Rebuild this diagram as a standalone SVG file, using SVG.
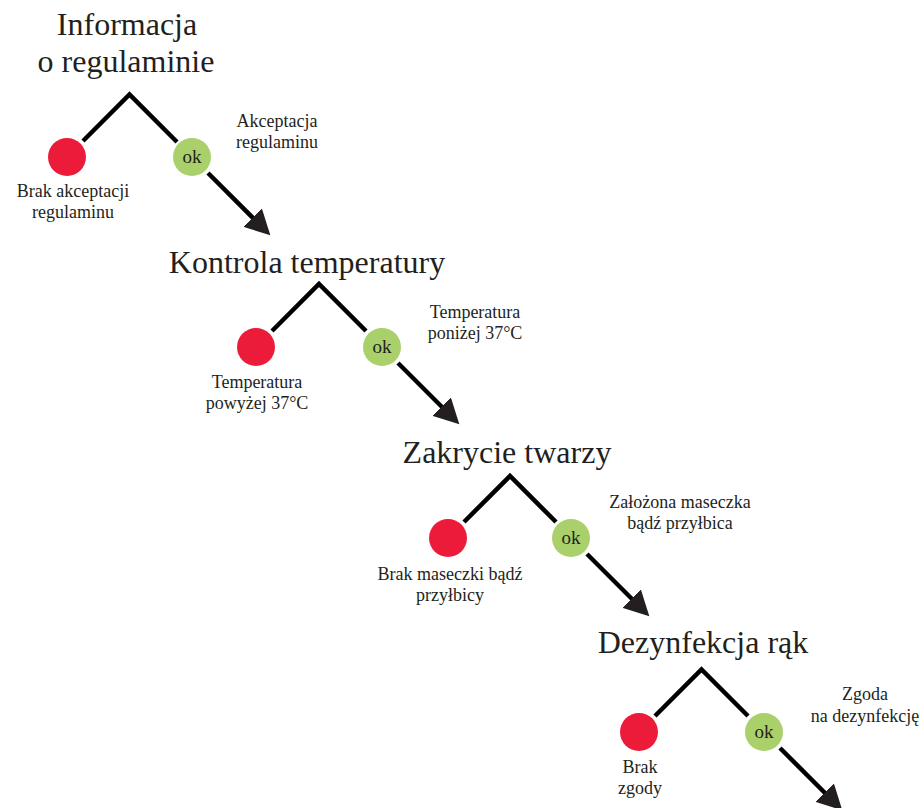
<svg xmlns="http://www.w3.org/2000/svg" width="922" height="808" viewBox="0 0 922 808">
<style>
.title{font-family:"Liberation Serif","Times New Roman",serif;font-size:32px;fill:#231f20;text-anchor:middle}
.lbl{font-family:"Liberation Serif","Times New Roman",serif;font-size:18px;fill:#231f20;text-anchor:middle}
.ok{font-family:"Liberation Serif","Times New Roman",serif;font-size:19px;fill:#231f20;text-anchor:middle}
.no{fill:#ed1b3a}
.yes{fill:#a9d06a}
.arm{fill:none;stroke:#000;stroke-width:4.5}
.arrow{fill:none;stroke:#000;stroke-width:4.5;marker-end:url(#head)}
</style>
<defs>
<marker id="head" markerUnits="userSpaceOnUse" markerWidth="26" markerHeight="26" refX="12" refY="12.5" orient="auto" viewBox="0 0 25 25">
<path d="M0,0 L24,12.5 L0,25 Z" fill="#231f20"/>
</marker>
</defs>
<rect width="922" height="808" fill="#fff"/>

<g id="step1">
<text class="title" x="127" y="35">Informacja</text>
<text class="title" x="126" y="72">o regulaminie</text>
<path class="arm" d="M83,141 L129.5,94.5 L177,142"/>
<circle class="no" cx="67" cy="157" r="19"/>
<circle class="yes" cx="192" cy="157" r="19"/>
<text class="ok" x="192" y="163">ok</text>
<text class="lbl" x="73" y="197">Brak akceptacji</text>
<text class="lbl" x="73" y="218">regulaminu</text>
<text class="lbl" x="277" y="127">Akceptacja</text>
<text class="lbl" x="277" y="148">regulaminu</text>
</g>

<g id="step2">
<text class="title" x="307" y="273">Kontrola temperatury</text>
<path class="arm" d="M272,331 L319,284 L366,331"/>
<circle class="no" cx="256" cy="347" r="19"/>
<circle class="yes" cx="382" cy="347" r="19"/>
<text class="ok" x="382" y="353">ok</text>
<text class="lbl" x="257" y="388">Temperatura</text>
<text class="lbl" x="257" y="409">powyżej 37°C</text>
<text class="lbl" x="475" y="318">Temperatura</text>
<text class="lbl" x="475" y="339">poniżej 37°C</text>
</g>

<g id="step3">
<text class="title" x="507" y="463">Zakrycie twarzy</text>
<path class="arm" d="M464,522 L510,476 L556,522"/>
<circle class="no" cx="448" cy="538" r="19"/>
<circle class="yes" cx="571" cy="538" r="19"/>
<text class="ok" x="571" y="544">ok</text>
<text class="lbl" x="450" y="580">Brak maseczki bądź</text>
<text class="lbl" x="450" y="601">przyłbicy</text>
<text class="lbl" x="680" y="508">Założona maseczka</text>
<text class="lbl" x="680" y="529">bądź przyłbica</text>
</g>

<g id="step4">
<text class="title" x="703" y="653">Dezynfekcja rąk</text>
<path class="arm" d="M655,716 L701.5,669.5 L748,716"/>
<circle class="no" cx="639" cy="732" r="19"/>
<circle class="yes" cx="764" cy="732" r="19"/>
<text class="ok" x="764" y="738">ok</text>
<text class="lbl" x="640" y="773">Brak</text>
<text class="lbl" x="640" y="794">zgody</text>
<text class="lbl" x="865" y="700">Zgoda</text>
<text class="lbl" x="865" y="722">na dezynfekcję</text>
</g>

<g id="connectors">
<path class="arrow" d="M208,173 L261.5,226.5"/>
<path class="arrow" d="M398,363 L450.5,415.5"/>
<path class="arrow" d="M587,554 L640.5,607.5"/>
<path class="arrow" d="M780,748 L833.5,801.5"/>
</g>
</svg>
